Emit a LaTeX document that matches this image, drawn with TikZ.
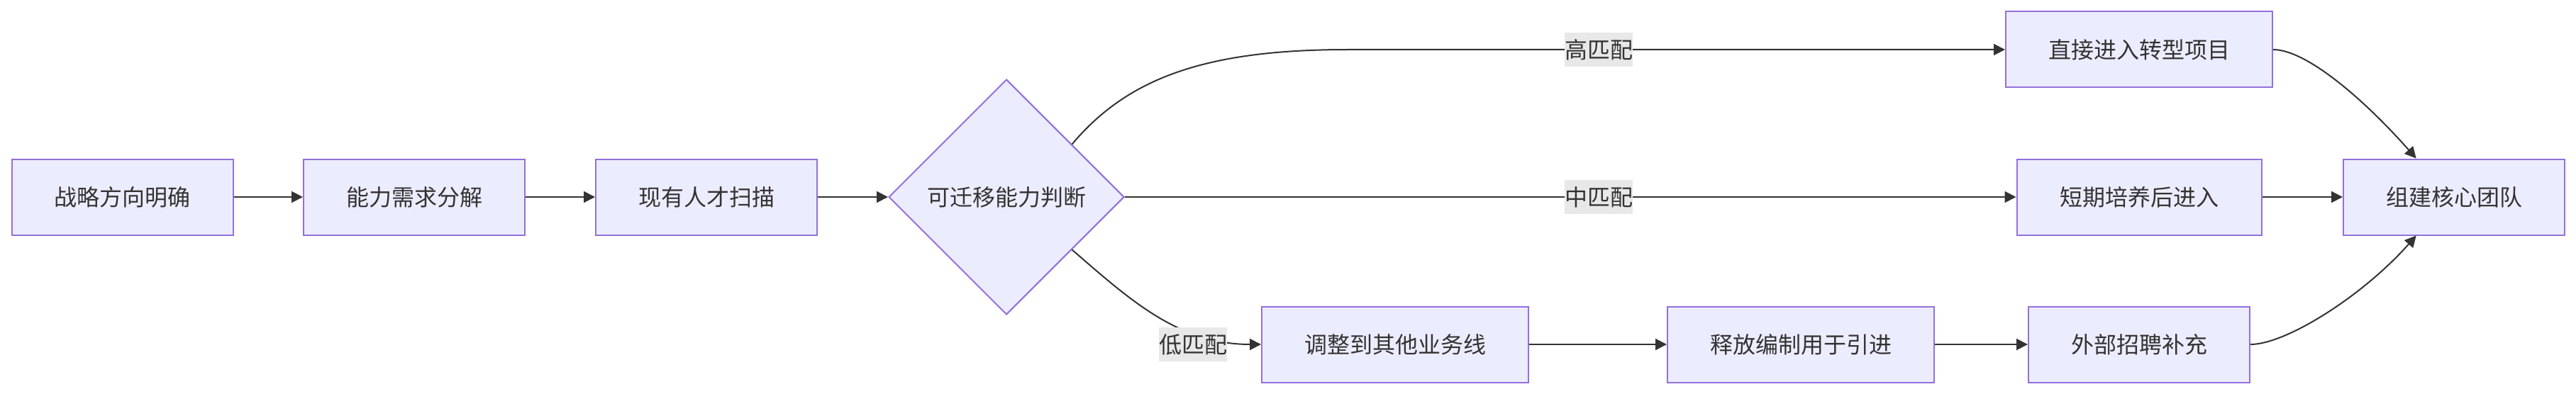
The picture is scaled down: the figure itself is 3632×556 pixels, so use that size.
\documentclass[tikz,border=0pt]{standalone}
\usepackage{fontspec}
\newfontfamily\cjk{Noto Sans CJK SC}
\usetikzlibrary{shapes.geometric,arrows.meta,calc}
\definecolor{nodefill}{HTML}{ECECFF}
\definecolor{nodeborder}{HTML}{9370DB}
\definecolor{ink}{HTML}{333333}
\definecolor{lblbg}{HTML}{E8E8E8}
\begin{document}
\begin{tikzpicture}[x=0.5pt,y=-0.5pt,
  txt/.style={font=\cjk\fontsize{16pt}{19pt}\selectfont, text=ink},
  box/.style={txt, draw=nodeborder, fill=nodefill, line width=1pt, minimum height=53.5pt, inner sep=0pt},
  dia/.style={txt, diamond, draw=nodeborder, fill=nodefill, line width=1pt, minimum width=166pt, minimum height=166pt, aspect=1, inner sep=0pt},
  edge/.style={draw=ink, line width=1pt, -{Triangle[length=8pt,width=8pt]}},
  lbl/.style={txt, fill=lblbg, minimum width=48pt, minimum height=24pt, inner sep=0pt}
]
\useasboundingbox[fill=white] (0,0) rectangle (3632,556);

\node[box, minimum width=156pt] (A) at (172.5,278) {战略方向明确};
\node[box, minimum width=156pt] (B) at (584,278) {能力需求分解};
\node[box, minimum width=156pt] (C) at (996,278) {现有人才扫描};
\node[dia] (D) at (1419,278) {可迁移能力判断};
\node[box, minimum width=188pt] (E) at (3016,70) {直接进入转型项目};
\node[box, minimum width=172.5pt] (F) at (3016,278) {短期培养后进入};
\node[box, minimum width=188pt] (G) at (1967,486) {调整到其他业务线};
\node[box, minimum width=188pt] (H) at (2539,486) {释放编制用于引进};
\node[box, minimum width=156pt] (I) at (3016,486) {外部招聘补充};
\node[box, minimum width=156pt] (J) at (3460,278) {组建核心团队};

\coordinate (Dup) at ($(D.east)!0.446!(D.north)$);
\coordinate (Dlo) at ($(D.east)!0.446!(D.south)$);
\coordinate (hi) at (1900,70);
\coordinate (Jt) at ($(J.north west)!0.33!(J.north east)$);
\coordinate (Jb) at ($(J.south west)!0.33!(J.south east)$);

\draw[edge] (A.east) -- (B.west);
\draw[edge] (B.east) -- (C.west);
\draw[edge] (C.east) -- (D.west);
\draw[edge] (Dup) .. controls (1590,110) and (1700,70) .. (hi) -- (E.west);
\draw[edge] (D.east) -- (F.west);
\draw[edge] (Dlo) .. controls (1590,420) and (1660,486) .. (G.west);
\draw[edge] (G.east) -- (H.west);
\draw[edge] (H.east) -- (I.west);
\draw[edge] (F.east) -- (J.west);
\draw[edge] (E.east) .. controls +(46,0) and +(-75,-85) .. (Jt);
\draw[edge] (I.east) .. controls +(50,0) and +(-75,85) .. (Jb);

\node[lbl] (lh) at (2254,70) {高匹配};
\node[lbl] (lm) at (2254,278) {中匹配};
\node[lbl] (ll) at (1682,486) {低匹配};
\end{tikzpicture}
\end{document}
